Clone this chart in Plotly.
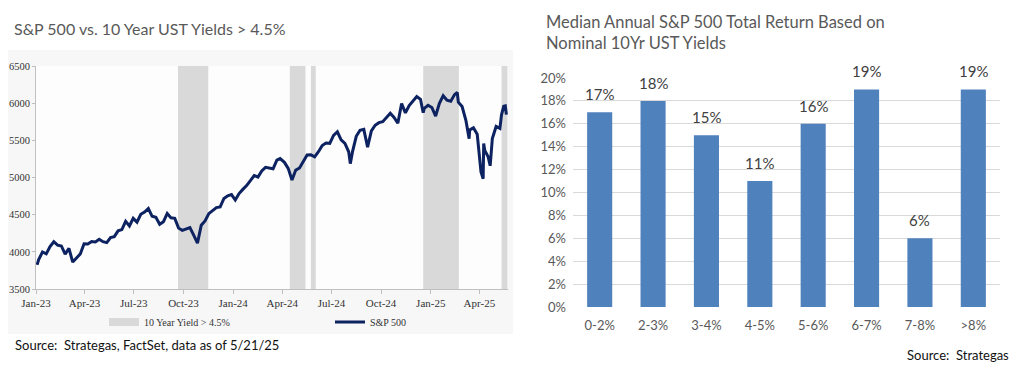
import plotly.graph_objects as go

# ---------------- data: left chart (S&P 500) ----------------
spx_dates = [
    "2023-01-03", "2023-01-06", "2023-01-13", "2023-01-20", "2023-01-27", "2023-02-03", "2023-02-10",
    "2023-02-17", "2023-02-24", "2023-03-03", "2023-03-10", "2023-03-17", "2023-03-24", "2023-03-31",
    "2023-04-07", "2023-04-14", "2023-04-21", "2023-04-28", "2023-05-05", "2023-05-12", "2023-05-19",
    "2023-05-26", "2023-06-02", "2023-06-09", "2023-06-16", "2023-06-23", "2023-06-30", "2023-07-07",
    "2023-07-14", "2023-07-21", "2023-07-28", "2023-08-04", "2023-08-11", "2023-08-18", "2023-08-25",
    "2023-09-01", "2023-09-08", "2023-09-15", "2023-09-22", "2023-09-29", "2023-10-06", "2023-10-13",
    "2023-10-20", "2023-10-27", "2023-11-03", "2023-11-10", "2023-11-17", "2023-11-24", "2023-12-01",
    "2023-12-08", "2023-12-15", "2023-12-22", "2023-12-29",
    "2024-01-05", "2024-01-12", "2024-01-19", "2024-01-26", "2024-02-02", "2024-02-09", "2024-02-16",
    "2024-02-23", "2024-03-01", "2024-03-08", "2024-03-15", "2024-03-22", "2024-03-28", "2024-04-05",
    "2024-04-12", "2024-04-19", "2024-04-26", "2024-05-03", "2024-05-10", "2024-05-17", "2024-05-24",
    "2024-05-31", "2024-06-07", "2024-06-14", "2024-06-21", "2024-06-28", "2024-07-05", "2024-07-12",
    "2024-07-19", "2024-07-26", "2024-08-02", "2024-08-05", "2024-08-09", "2024-08-16", "2024-08-23",
    "2024-08-30", "2024-09-06", "2024-09-13", "2024-09-20", "2024-09-27", "2024-10-04", "2024-10-11",
    "2024-10-18", "2024-10-25", "2024-11-01", "2024-11-08", "2024-11-15", "2024-11-22", "2024-11-29",
    "2024-12-06", "2024-12-13", "2024-12-18", "2024-12-20", "2024-12-27",
    "2025-01-03", "2025-01-10", "2025-01-17", "2025-01-24", "2025-01-31", "2025-02-07", "2025-02-14",
    "2025-02-19", "2025-02-21", "2025-02-28", "2025-03-07", "2025-03-13", "2025-03-14", "2025-03-21",
    "2025-03-28", "2025-04-04", "2025-04-08", "2025-04-09", "2025-04-11", "2025-04-17", "2025-04-21",
    "2025-04-25", "2025-05-02", "2025-05-09", "2025-05-12", "2025-05-16", "2025-05-19", "2025-05-21",
]
spx_values = [
    3825, 3895, 3999, 3973, 4071, 4136, 4090,
    4079, 3970, 4046, 3862, 3917, 3971, 4109,
    4105, 4138, 4133, 4169, 4136, 4124, 4192,
    4205, 4282, 4299, 4410, 4348, 4450, 4399,
    4505, 4536, 4582, 4478, 4464, 4370, 4406,
    4516, 4457, 4450, 4320, 4288, 4308, 4327,
    4224, 4117, 4358, 4415, 4514, 4559, 4595,
    4604, 4719, 4754, 4770,
    4697, 4784, 4840, 4891, 4959, 5027, 5006,
    5089, 5137, 5124, 5117, 5234, 5254, 5204,
    5123, 4967, 5100, 5128, 5223, 5303, 5305,
    5278, 5347, 5431, 5465, 5460, 5567, 5615,
    5505, 5459, 5346, 5186, 5344, 5554, 5635,
    5648, 5408, 5626, 5703, 5738, 5751, 5815,
    5865, 5808, 5729, 5996, 5870, 5969, 6032,
    6090, 6051, 5872, 5931, 5971,
    5942, 5827, 5997, 6101, 6041, 6026, 6115,
    6144, 6013, 5955, 5770, 5522, 5639, 5668,
    5581, 5074, 4982, 5457, 5363, 5283, 5158,
    5525, 5686, 5660, 5844, 5958, 5963, 5845,
]
# periods with 10-year yield > 4.5%
shade_starts = ["2023-09-21", "2024-04-15", "2024-05-24", "2024-12-18", "2025-05-12"]
shade_ends = ["2023-11-16", "2024-05-14", "2024-06-02", "2025-02-22", "2025-05-23"]
x_tick_vals = ["2023-01-01", "2023-04-01", "2023-07-01", "2023-10-01", "2024-01-01", "2024-04-01",
               "2024-07-01", "2024-10-01", "2025-01-01", "2025-04-01"]
x_tick_text = ["Jan-23", "Apr-23", "Jul-23", "Oct-23", "Jan-24", "Apr-24", "Jul-24", "Oct-24",
               "Jan-25", "Apr-25"]

# ---------------- data: right chart ----------------
yield_buckets = ["0-2%", "2-3%", "3-4%", "4-5%", "5-6%", "6-7%", "7-8%", ">8%"]
median_returns = [17, 18, 15, 11, 16, 19, 6, 19]

# page body has an 8px margin; figure is sized/positioned to compensate
OFF = 8
W, H = 1024 - OFF, 372 - OFF
def px(x):
    return (x - OFF) / W
def py(y):
    return 1 - (y - OFF) / H

SERIF = "Liberation Serif"
SANS = "Lato"
NAVY = "#0d2260"
SHADE = "#d9d9d9"
BLUE = "#4f81bd"

fig = go.Figure()

# legend proxy for shading
fig.add_trace(go.Scatter(
    x=[None], y=[None], mode="lines", name="10 Year Yield > 4.5%",
    line=dict(color=SHADE, width=8), xaxis="x", yaxis="y", legend="legend", hoverinfo="skip",
))
fig.add_trace(go.Scatter(
    x=spx_dates, y=spx_values, mode="lines", name="S&P 500",
    line=dict(color=NAVY, width=3), xaxis="x", yaxis="y", legend="legend2",
))

fig.add_trace(go.Bar(
    x=yield_buckets, y=median_returns, marker=dict(color=BLUE, line=dict(width=0)),
    xaxis="x2", yaxis="y2", showlegend=False,
))

shapes = [
    dict(type="rect", xref="paper", yref="paper", x0=px(8), x1=px(513), y0=py(334), y1=py(50),
         fillcolor="#f7f7f7", line=dict(width=0), layer="below"),
    dict(type="rect", xref="paper", yref="paper", x0=px(36), x1=px(508), y0=py(289), y1=py(66),
         fillcolor="#fdfdfd", line=dict(width=0), layer="below"),
]
for s, e in zip(shade_starts, shade_ends):
    shapes.append(dict(type="rect", xref="x", yref="y domain", x0=s, x1=e, y0=0, y1=1,
                       fillcolor=SHADE, line=dict(width=0), layer="below"))

annotations = [
    dict(text="S&P 500 vs. 10 Year UST Yields > 4.5%", x=px(12), y=py(28), xref="paper", yref="paper",
         xanchor="left", yanchor="middle", showarrow=False, font=dict(family=SANS, size=16, color="#595959")),
    dict(text="Median Annual S&P 500 Total Return Based on<br>Nominal 10Yr UST Yields", x=px(544), y=py(33),
         xref="paper", yref="paper", xanchor="left", yanchor="middle", align="left", showarrow=False,
         font=dict(family=SANS, size=16.5, color="#595959")),
    dict(text="Source:  Strategas, FactSet, data as of 5/21/25", x=px(13), y=py(345), xref="paper",
         yref="paper", xanchor="left", yanchor="middle", showarrow=False,
         font=dict(family=SANS, size=13, color="#111111")),
    dict(text="Source:  Strategas", x=px(1011), y=py(355), xref="paper", yref="paper",
         xanchor="right", yanchor="middle", showarrow=False,
         font=dict(family=SANS, size=13, color="#111111")),
]
for cat, val in zip(yield_buckets, median_returns):
    annotations.append(dict(text=f"{val}%", x=cat, y=val, xref="x2", yref="y2", xanchor="center",
                            yanchor="bottom", yshift=7, showarrow=False,
                            font=dict(family=SANS, size=15, color="#404040")))

fig.update_layout(
    template="none",
    width=W, height=H, margin=dict(l=0, r=0, t=0, b=0, pad=0, autoexpand=False),
    paper_bgcolor="white", plot_bgcolor="rgba(0,0,0,0)",
    shapes=shapes, annotations=annotations,
    xaxis=dict(domain=[px(36), px(508)], type="date", range=["2023-01-01", "2025-05-24"],
               tickvals=x_tick_vals, ticktext=x_tick_text, showgrid=False, zeroline=False,
               showline=True, linecolor="#bfbfbf", linewidth=1, ticks="outside", ticklen=4,
               tickcolor="#bfbfbf", tickfont=dict(family=SERIF, size=11, color="#333333"), anchor="y",
               automargin=False),
    yaxis=dict(domain=[py(289), py(66)], range=[3500, 6500], dtick=500, showgrid=False, zeroline=False,
               showline=True, linecolor="#bfbfbf", linewidth=1, ticks="outside", ticklen=3,
               tickcolor="#bfbfbf", tickfont=dict(family=SERIF, size=10.5, color="#333333"), anchor="x",
               automargin=False),
    xaxis2=dict(domain=[px(573), px(1000)], showgrid=False, zeroline=False, showline=False, ticks="",
                ticklabelstandoff=9,
                tickfont=dict(family=SANS, size=13, color="#595959"), anchor="y2", automargin=False),
    yaxis2=dict(domain=[py(307), py(78)], range=[0, 20], dtick=2, ticksuffix="%", showgrid=True,
                gridcolor="#d9d9d9", gridwidth=1, zeroline=False, showline=False, ticks="",
                ticklabelstandoff=6,
                tickfont=dict(family=SANS, size=13, color="#595959"), anchor="x2", automargin=False),
    bargap=0.53,
    legend=dict(x=px(104), y=py(322), xanchor="left", yanchor="middle", orientation="h",
                bgcolor="rgba(0,0,0,0)", font=dict(family=SERIF, size=10, color="#333333"), itemwidth=30),
    legend2=dict(x=px(330), y=py(322), xanchor="left", yanchor="middle", orientation="h",
                 bgcolor="rgba(0,0,0,0)", font=dict(family=SERIF, size=10, color="#333333"), itemwidth=30),
)

fig.write_html("out.html")
